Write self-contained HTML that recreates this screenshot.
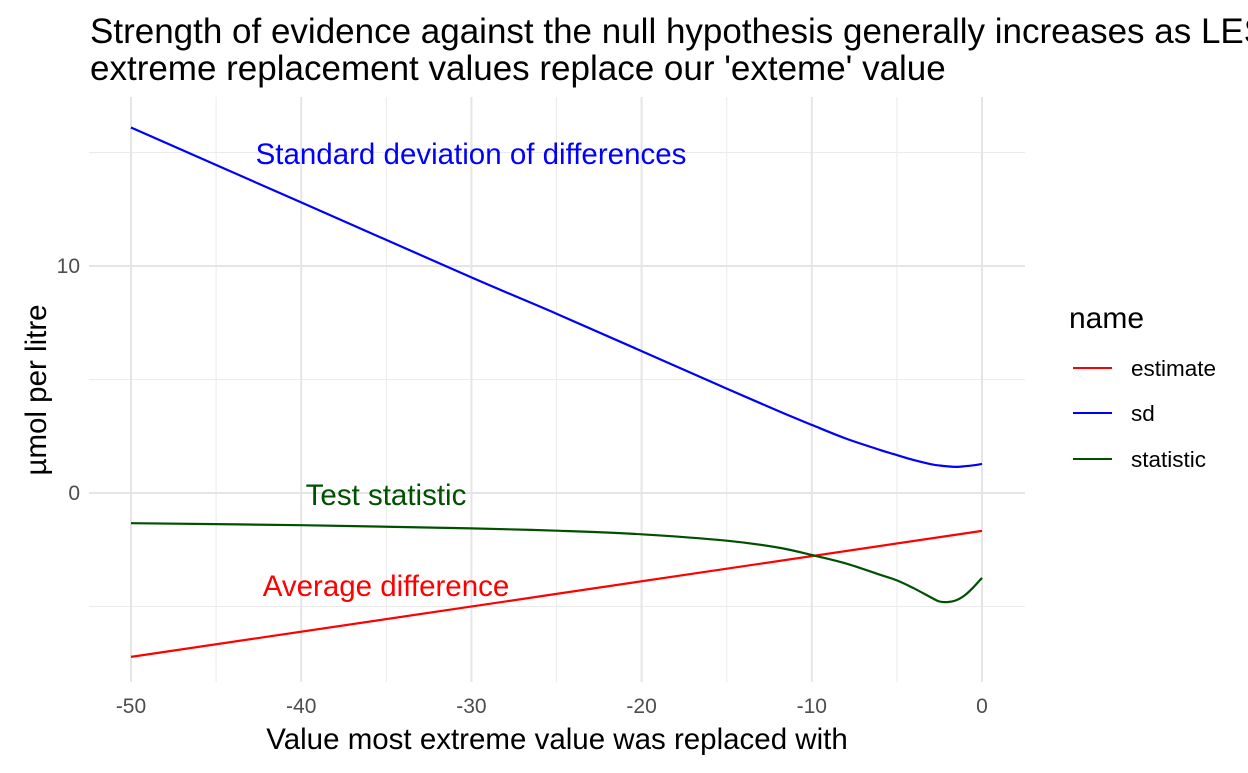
<!DOCTYPE html>
<html><head><meta charset="utf-8"><style>
body{margin:0;background:#fff;font-family:"Liberation Sans",Arial,sans-serif}
svg text{font-family:"Liberation Sans",Arial,sans-serif}
</style></head><body>
<svg id="chart" width="1248" height="768">
<text x="90" y="43" font-size="35" fill="#000">Strength of evidence against the null hypothesis generally increases as LESS</text>
<text x="90" y="80" font-size="35" fill="#000">extreme replacement values replace our 'exteme' value</text>
<g id="grid"></g><g id="series"></g><g id="axes"></g>
<text x="557" y="749" font-size="29.5" text-anchor="middle">Value most extreme value was replaced with</text>
<text transform="translate(46,390) rotate(-90)" font-size="29.5" text-anchor="middle">µmol per litre</text>
<text x="471" y="164" font-size="29.5" fill="#0000ff" text-anchor="middle">Standard deviation of differences</text>
<text x="386" y="505" font-size="29.5" fill="#005000" text-anchor="middle">Test statistic</text>
<text x="386" y="596" font-size="29.5" fill="#ff0000" text-anchor="middle">Average difference</text>
<text x="1069" y="328" font-size="30">name</text>
<g><line x1="1073" x2="1112" y1="368" y2="368" stroke="#ff0000" stroke-width="2"/><text x="1131" y="376" font-size="22.5">estimate</text></g>
<g><line x1="1073" x2="1112" y1="413" y2="413" stroke="#0000ff" stroke-width="2"/><text x="1131" y="421" font-size="22.5">sd</text></g>
<g><line x1="1073" x2="1112" y1="459" y2="459" stroke="#005000" stroke-width="2"/><text x="1131" y="467" font-size="22.5">statistic</text></g>
</svg>
<script>
const xs = [-50,-40,-30,-25,-20,-15,-12,-10,-8,-6,-5,-4,-3,-2.5,-2,-1.5,-1,-0.5,0];
const sdVals = [16.1,12.8,9.5,7.9,6.25,4.6,3.62,3.0,2.4,1.9,1.67,1.45,1.27,1.21,1.17,1.15,1.18,1.22,1.28];
const estimateX = [-50,0];
const estimateVals = [-7.22,-1.67];
const statVals = [-1.33,-1.42,-1.56,-1.66,-1.82,-2.1,-2.4,-2.73,-3.1,-3.6,-3.85,-4.2,-4.6,-4.78,-4.8,-4.72,-4.5,-4.15,-3.74];
const xTicks = [-50,-40,-30,-20,-10,0];
const xMinor = [-45,-35,-25,-15,-5];
const yTicks = [0,10];
const yMinor = [-5,5,15];
const NS='http://www.w3.org/2000/svg';
function X(v){return 982+v*17.02;}
function Y(v){return 493-v*22.7;}
const grid=document.getElementById('grid'), axes=document.getElementById('axes'), ser=document.getElementById('series');
function ln(p,x1,y1,x2,y2,c,w,name){const l=document.createElementNS(NS,'line');l.setAttribute('x1',x1);l.setAttribute('y1',y1);l.setAttribute('x2',x2);l.setAttribute('y2',y2);l.setAttribute('stroke',c);l.setAttribute('stroke-width',w);


p.appendChild(l);}
function tx(x,y,s,a,name){const t=document.createElementNS(NS,'text');t.setAttribute('x',x);t.setAttribute('y',y);t.setAttribute('font-size','21');t.setAttribute('fill','#4d4d4d');t.setAttribute('text-anchor',a);t.textContent=s;


axes.appendChild(t);}
xMinor.forEach(v=>ln(grid,X(v),97,X(v),682,'#ebebeb',1,'x-minor-gridline'));
yMinor.forEach(v=>ln(grid,89,Y(v),1025,Y(v),'#ebebeb',1,'y-minor-gridline'));
xTicks.forEach(v=>{ln(grid,X(v),97,X(v),682,'#e5e5e5',2,'x-major-gridline');tx(X(v),713,String(v),'middle','x-tick-label');});
yTicks.forEach(v=>{ln(grid,89,Y(v),1025,Y(v),'#e5e5e5',2,'y-major-gridline');tx(80,Y(v)+7,String(v),'end','y-tick-label');});
function path(pts,c,name){
  const P=pts.map(q=>[X(q[0]),Y(q[1])]);
  let d='M'+P[0][0].toFixed(1)+','+P[0][1].toFixed(1);
  for(let i=0;i<P.length-1;i++){
    const p0=P[Math.max(0,i-1)],p1=P[i],p2=P[i+1],p3=P[Math.min(P.length-1,i+2)];
    const c1=[p1[0]+(p2[0]-p0[0])/6,p1[1]+(p2[1]-p0[1])/6];
    const c2=[p2[0]-(p3[0]-p1[0])/6,p2[1]-(p3[1]-p1[1])/6];
    d+='C'+c1.map(v=>v.toFixed(1)).join(',')+' '+c2.map(v=>v.toFixed(1)).join(',')+' '+p2.map(v=>v.toFixed(1)).join(',');
  }
  const p=document.createElementNS(NS,'path');p.setAttribute('d',d);p.setAttribute('fill','none');p.setAttribute('stroke',c);p.setAttribute('stroke-width','2.2');
  
  
  ser.appendChild(p);}
path(xs.map((x,i)=>[x,sdVals[i]]),'#0000ff','sd-line');
path(estimateX.map((x,i)=>[x,estimateVals[i]]),'#ff0000','estimate-line');
path(xs.map((x,i)=>[x,statVals[i]]),'#005000','statistic-line');
</script>
</body></html>
